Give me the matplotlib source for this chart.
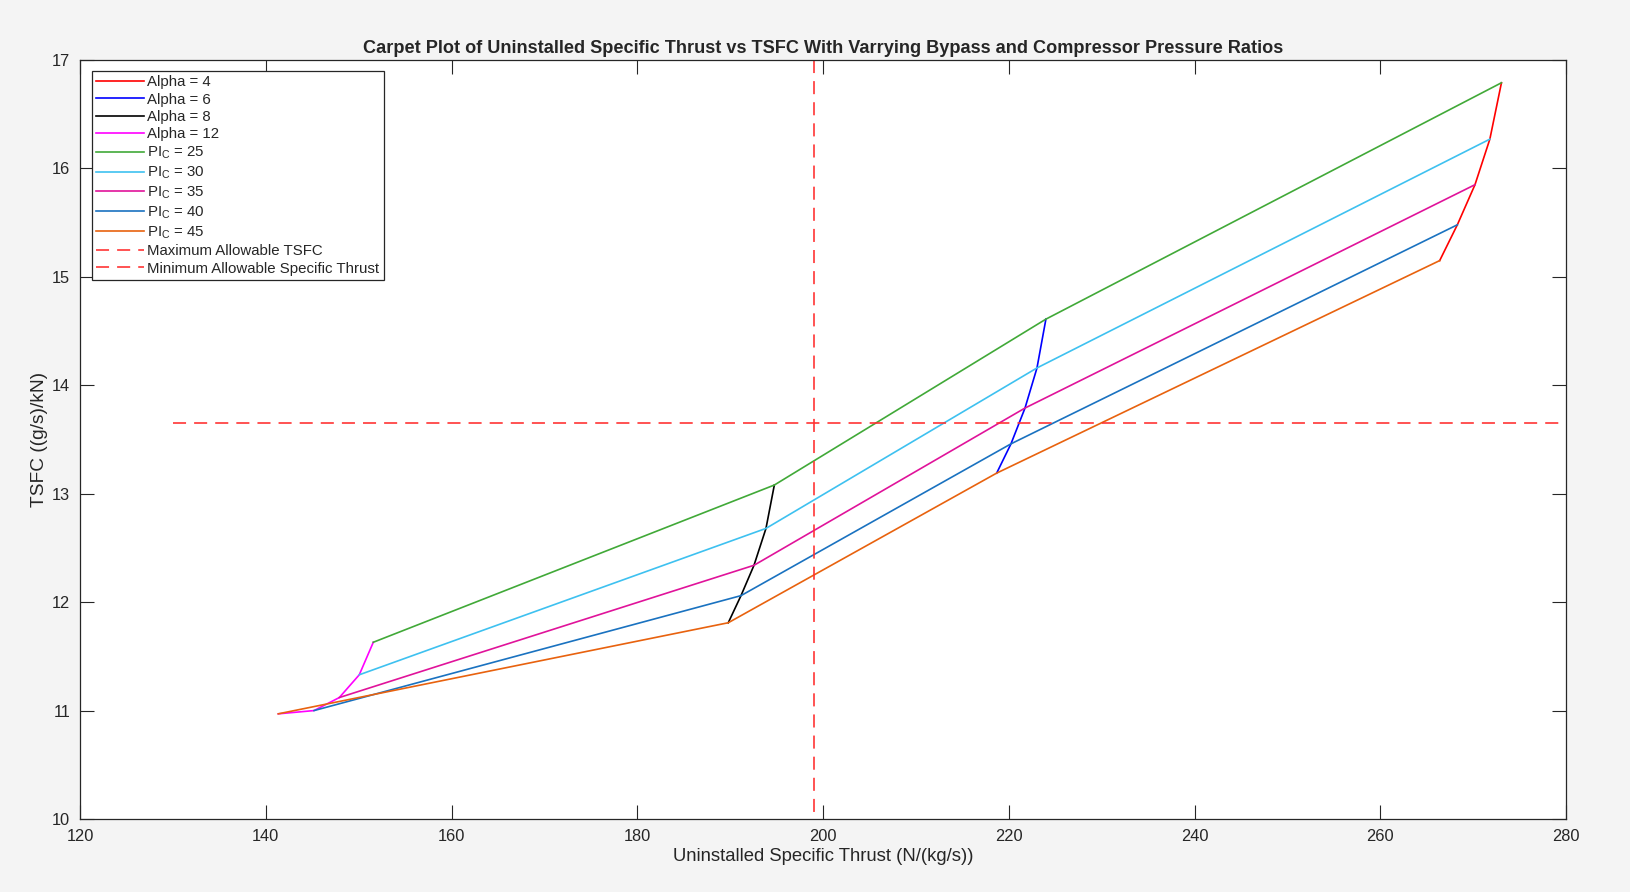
import matplotlib
matplotlib.use("Agg")
import matplotlib.pyplot as plt

plt.rcParams['font.family'] = ['Liberation Sans', 'DejaVu Sans']
plt.rcParams['mathtext.fontset'] = 'custom'
plt.rcParams['mathtext.rm'] = 'Liberation Sans'
plt.rcParams['mathtext.it'] = 'Liberation Sans'

# ---- data ----
alphas = [4, 6, 8, 12]
pics = [25, 30, 35, 40, 45]
# specific thrust (N/(kg/s)) per PIc, ordered by alpha [4, 6, 8, 12]
thrust_pic25 = [273.05, 224.0, 194.76, 151.58]
thrust_pic30 = [271.8, 223.04, 193.86, 150.07]
thrust_pic35 = [270.2, 221.75, 192.57, 147.92]
thrust_pic40 = [268.3, 220.24, 191.17, 145.2]
thrust_pic45 = [266.4, 218.7, 189.8, 141.35]
# TSFC ((g/s)/kN) per PIc, ordered by alpha [4, 6, 8, 12]
tsfc_pic25 = [16.79, 14.61, 13.08, 11.63]
tsfc_pic30 = [16.27, 14.16, 12.68, 11.33]
tsfc_pic35 = [15.85, 13.79, 12.34, 11.12]
tsfc_pic40 = [15.48, 13.46, 12.06, 11.00]
tsfc_pic45 = [15.15, 13.19, 11.81, 10.97]

thrust = [thrust_pic25, thrust_pic30, thrust_pic35, thrust_pic40, thrust_pic45]
tsfc = [tsfc_pic25, tsfc_pic30, tsfc_pic35, tsfc_pic40, tsfc_pic45]

max_tsfc = 13.655
max_tsfc_x = [130, 280]
min_thrust = 199.07
min_thrust_y = [17, 10]

alpha_colors = ['#FF0000', '#0000FF', '#000000', '#FF00FF']
pic_colors = ['#41A938', '#3EC1F0', '#E0139A', '#1A72C0', '#E8620E']

# ---- figure ----
fig = plt.figure(figsize=(16.3, 8.92), dpi=100, facecolor='#F4F4F4')
ax = fig.add_axes([80/1630, 1 - 819/892, (1566-80)/1630, (819-60)/892])
ax.set_facecolor('white')

for j, a in enumerate(alphas):
    xs = [thrust[i][j] for i in range(len(pics))]
    ys = [tsfc[i][j] for i in range(len(pics))]
    ax.plot(xs, ys, color=alpha_colors[j], lw=1.2, label=f'Alpha = {a}')

for i, p in enumerate(pics):
    ax.plot(thrust[i], tsfc[i], color=pic_colors[i], lw=1.2,
            label=r'PI$_{\mathrm{C}}$ = ' + str(p))

lw_d = 1.3
ax.plot(max_tsfc_x, [max_tsfc, max_tsfc], color='#FF3030', alpha=0.9, lw=lw_d,
        dashes=(9.4/lw_d, 5.8/lw_d), label='Maximum Allowable TSFC')
ax.plot([min_thrust, min_thrust], min_thrust_y, color='#FF3030', alpha=0.9, lw=lw_d,
        dashes=(9.4/lw_d, 5.8/lw_d), label='Minimum Allowable Specific Thrust')

ax.set_xlim(120, 280)
ax.set_ylim(10, 17)
ax.set_xticks(range(120, 281, 20))
ax.set_yticks(range(10, 18, 1))
ax.tick_params(direction='in', length=10, width=0.8, top=True, right=True,
               labelsize=11.8, colors='#262626', pad=7)
for s in ax.spines.values():
    s.set_color('#262626')
    s.set_linewidth(0.9)

ax.set_xlabel('Uninstalled Specific Thrust (N/(kg/s))', fontsize=13.3, color='#262626', labelpad=3)
ax.set_ylabel('TSFC ((g/s)/kN)', fontsize=13.8, color='#262626', labelpad=3)
ax.set_title('Carpet Plot of Uninstalled Specific Thrust vs TSFC With Varrying Bypass and Compressor Pressure Ratios',
             fontsize=13.1, fontweight='bold', color='#262626', pad=5)

leg = ax.legend(loc='upper left', bbox_to_anchor=(0.008, 0.986), fontsize=10.8,
                frameon=True, fancybox=False, framealpha=1, edgecolor='#262626',
                handlelength=3.2, handletextpad=0.2, labelspacing=0.23,
                borderpad=0.3, borderaxespad=0.0)
leg.get_frame().set_linewidth(0.9)
for t in leg.get_texts():
    t.set_color('#262626')

fig.savefig('out.png', dpi=100, facecolor=fig.get_facecolor())
